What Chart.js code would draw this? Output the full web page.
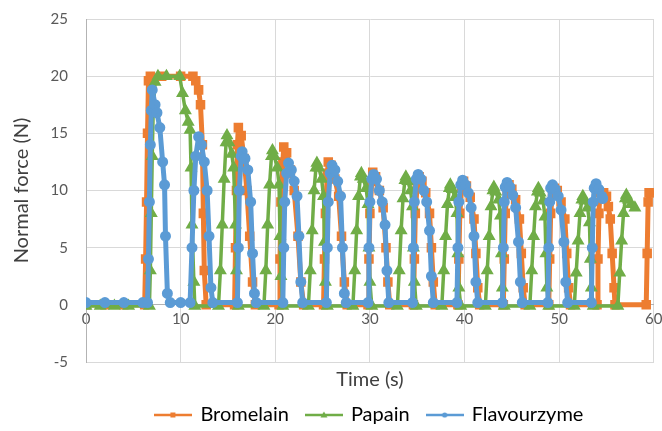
<!DOCTYPE html>
<html>
<head>
<meta charset="utf-8">
<script src="https://cdn.jsdelivr.net/npm/chart.js@4"></script>
<style>
  html, body { margin: 0; padding: 0; background: #fff; }
</style>
</head>
<body>
<canvas id="forceChart" width="662" height="431"></canvas>
<script>
// Normal force vs time for three enzyme treatments

const xTicks = [0, 10, 20, 30, 40, 50, 60];
const yTicks = [-5, 0, 5, 10, 15, 20, 25];

const bromelainT = [
  0, 2, 4, 6.2, 6.3, 6.4, 6.5, 6.6, 6.8, 8, 10, 11.3, 11.6, 11.9, 12.1, 12.3, 12.4, 12.5, 12.7,
  15.7, 15.8, 15.9, 16.0, 16.1, 16.4, 16.7, 17.0, 17.3, 17.6, 17.9,
  20.4, 20.5, 20.6, 20.8, 20.9, 21.2, 21.6, 22.0, 22.4, 22.7, 23.0,
  25.1, 25.2, 25.3, 25.5, 25.6, 25.9, 26.3, 26.7, 27.0, 27.3, 27.6,
  29.8, 29.9, 30.0, 30.2, 30.3, 30.6, 31.0, 31.4, 31.7, 31.9, 32.1,
  34.6, 34.7, 34.8, 35.0, 35.2, 35.5, 35.9, 36.3, 36.5, 36.7, 36.9,
  39.3, 39.4, 39.5, 39.7, 39.9, 40.2, 40.6, 41.0, 41.2, 41.4, 41.6,
  44.1, 44.2, 44.3, 44.5, 44.7, 45.0, 45.4, 45.8, 46.0, 46.2, 46.4,
  48.9, 49.0, 49.1, 49.3, 49.5, 49.8, 50.2, 50.6, 50.8, 51.0, 51.2,
  54.0, 54.1, 54.2, 54.3, 54.7, 55.0, 55.2, 55.4, 55.6, 55.8, 55.9,
  59.2, 59.3, 59.4, 59.5, 60.0, 60.1
];
const bromelainF = [
  0, 0, 0, 0, 4, 9, 15, 19.6, 20, 20, 20, 20, 19.6, 18.8, 17.5, 14, 8, 3, 0,
  0, 5, 10, 14, 15.5, 14.8, 12.8, 10, 6, 2, 0,
  0, 4, 9, 12.5, 13.8, 13.3, 11.8, 10, 6, 2, 0,
  0, 4, 8, 11.5, 12.5, 12.2, 11, 9.5, 6, 2, 0,
  0, 4, 8, 10.8, 11.6, 11.2, 10, 8.5, 5, 2, 0,
  0, 4, 8, 10.6, 11.2, 10.8, 9.8, 8, 5, 2, 0,
  0, 4, 8, 10.2, 10.8, 10.4, 9.4, 7.5, 4.5, 1.5, 0,
  0, 4, 8, 10, 10.5, 10.1, 9.2, 7.5, 4.5, 1.5, 0,
  0, 4, 8, 9.8, 10.2, 10, 9, 7.5, 4.5, 1.5, 0,
  0, 4, 8, 9.8, 9.8, 9.5, 8.6, 7.5, 4.5, 1.5, 0,
  0, 4.5, 9, 9.8, 9.8, 8.6
];

const papainT = [
  0, 1.5, 3, 4.5, 6.7, 6.8, 6.9, 7.0, 7.1, 7.3, 7.6, 8.5, 9.9, 10.2, 10.5, 10.8, 11.0, 11.1, 11.2, 11.4, 11.5,
  14.0, 14.2, 14.4, 14.6, 14.8, 14.9, 15.1, 15.4, 15.6, 15.8, 15.9, 16.1,
  18.8, 19.0, 19.2, 19.4, 19.6, 19.7, 19.9, 20.2, 20.4, 20.5, 20.6, 20.8,
  23.5, 23.7, 23.9, 24.1, 24.3, 24.4, 24.6, 24.9, 25.1, 25.2, 25.3, 25.5,
  28.2, 28.4, 28.6, 28.8, 29.0, 29.1, 29.3, 29.6, 29.8, 29.9, 30.0, 30.2,
  32.9, 33.1, 33.3, 33.5, 33.7, 33.8, 34.0, 34.3, 34.5, 34.6, 34.7, 34.9,
  37.6, 37.8, 38.0, 38.2, 38.4, 38.5, 38.7, 39.0, 39.2, 39.3, 39.4, 39.6,
  42.2, 42.4, 42.6, 42.8, 43.0, 43.1, 43.3, 43.6, 43.8, 43.9, 44.0, 44.2,
  46.9, 47.1, 47.3, 47.5, 47.7, 47.8, 48.0, 48.3, 48.5, 48.6, 48.7, 48.9,
  51.6, 51.8, 52.0, 52.2, 52.4, 52.5, 52.7, 53.0, 53.2, 53.3, 53.4, 53.6,
  56.2, 56.4, 56.6, 56.8, 57.0, 57.1, 57.3, 57.6, 58.0
];
const papainF = [
  -0.1, -0.1, -0.1, -0.1, -0.1, 3, 8, 13, 17, 19.5, 20, 20, 20, 18.5, 17, 16, 15.3, 12, 7, 2, -0.1,
  -0.1, 3, 7, 11, 14.2, 14.8, 14.2, 13.2, 12, 7, 3, -0.1,
  -0.1, 3, 7, 10.5, 13, 13.5, 13, 12, 10.5, 6, 2.5, -0.1,
  -0.1, 3, 6.5, 10, 12, 12.4, 12, 11, 9.5, 5.5, 2, -0.1,
  -0.1, 3, 6.5, 9.5, 11.2, 11.5, 11, 10.2, 8.8, 5, 2, -0.1,
  -0.1, 3, 6.5, 9.3, 10.9, 11.2, 10.8, 10, 8.6, 5, 2, -0.1,
  -0.1, 3, 6, 8.8, 10.2, 10.5, 10.1, 9.4, 8, 4.5, 1.5, -0.1,
  -0.1, 3, 6, 8.6, 10, 10.3, 9.9, 9.2, 7.8, 4.5, 1.5, -0.1,
  -0.1, 3, 6, 8.6, 9.9, 10.2, 9.8, 9.1, 7.7, 4.5, 1.5, -0.1,
  -0.1, 2.8, 5.6, 8, 9.2, 9.5, 9.1, 8.5, 7.2, 4, 1.5, -0.1,
  -0.1, 2.8, 5.6, 8, 9.3, 9.6, 9.2, 8.8, 8.5
];

const flavourzymeT = [
  0, 2, 4, 6, 6.5, 6.6, 6.7, 6.8, 6.9, 7.0, 7.3, 7.5, 7.8, 8.1, 8.3, 8.4, 8.6, 8.9,
  10, 11.0, 11.2, 11.4, 11.6, 11.9, 12.2, 12.5, 12.8, 13.0, 13.2, 13.4,
  16.0, 16.1, 16.2, 16.4, 16.5, 16.8, 17.1, 17.4, 17.6, 17.8, 18.0,
  20.8, 20.9, 21.0, 21.2, 21.4, 21.7, 22.0, 22.3, 22.5, 22.7, 22.9,
  25.4, 25.5, 25.6, 25.8, 26.0, 26.3, 26.6, 26.9, 27.1, 27.3, 27.5,
  29.8, 29.9, 30.0, 30.2, 30.4, 30.7, 31.0, 31.3, 31.6, 31.8, 32.0,
  34.5, 34.6, 34.7, 34.9, 35.1, 35.4, 35.7, 36.0, 36.3, 36.5, 36.7,
  39.2, 39.3, 39.4, 39.6, 39.8, 40.1, 40.4, 40.7, 41.0, 41.2, 41.4,
  44.0, 44.1, 44.2, 44.3, 44.5, 44.8, 45.1, 45.4, 45.7, 45.9, 46.1,
  48.8, 48.9, 49.0, 49.1, 49.3, 49.6, 49.9, 50.2, 50.5, 50.7, 50.9,
  53.4, 53.5, 53.6, 53.7, 53.9, 54.2, 54.5, 54.6
];
const flavourzymeF = [
  0.2, 0.2, 0.2, 0.2, 0.2, 4, 9, 14, 17, 18.8, 17.5, 16.8, 15.5, 12.5, 10.5, 6, 1, 0.2,
  0.2, 0.2, 5, 10, 13, 14.7, 14, 12.5, 10, 6, 1.5, 0.2,
  0.2, 5, 10, 13, 13.4, 12.8, 11.8, 9, 4.5, 1, 0.2,
  0.2, 5, 9, 11.5, 12.4, 11.8, 10.8, 9.5, 6, 2, 0.2,
  0.2, 5, 9, 11.5, 12.2, 11.8, 10.8, 9.5, 5, 1, 0.2,
  0.2, 5, 9, 11, 11.4, 11, 10, 9, 7, 3, 0.2,
  0.2, 5, 9, 11, 11.4, 11, 10, 9, 6.5, 2.5, 0.2,
  0.2, 5, 9, 10.5, 10.9, 10.5, 9.8, 8.5, 6, 2, 0.2,
  0.2, 5, 9, 10.3, 10.7, 10.3, 9.6, 8.5, 5.5, 2, 0.2,
  0.2, 5, 9, 10.2, 10.5, 10.1, 9.5, 8.3, 5.5, 2, 0.2,
  0.2, 5, 9, 10.2, 10.6, 10.1, 9.5, 9.3
];

const seriesNames = ['Bromelain', 'Papain', 'Flavourzyme'];
const seriesColors = ['#ED7D31', '#70AD47', '#5B9BD5'];

const FONT = 'Lato';
const textColor = '#404040';
const tickColor = '#595959';
const gridColor = '#d9d9d9';
const axisColor = '#b3b3b3';

function toPoints(ts, fs) {
  return ts.map((t, i) => ({ x: t, y: fs[i] }));
}

// small line-with-marker icon for the legend, like the office style legend
function legendIcon(color, marker) {
  const c = document.createElement('canvas');
  c.width = 38;
  c.height = 12;
  const g = c.getContext('2d');
  g.strokeStyle = color;
  g.fillStyle = color;
  g.lineWidth = 2.5;
  g.beginPath();
  g.moveTo(0, 6);
  g.lineTo(38, 6);
  g.stroke();
  g.beginPath();
  if (marker === 'rect') {
    g.rect(16, 3.5, 5, 5);
  } else if (marker === 'triangle') {
    g.moveTo(19, 2.5);
    g.lineTo(22.5, 8.5);
    g.lineTo(15.5, 8.5);
    g.closePath();
  } else {
    g.arc(19, 6, 2.6, 0, Math.PI * 2);
  }
  g.fill();
  return c;
}

const markers = ['rect', 'triangle', 'circle'];
const icons = seriesColors.map((c, i) => legendIcon(c, markers[i]));

const ctx = document.getElementById('forceChart').getContext('2d');

new Chart(ctx, {
  type: 'line',
  data: {
    datasets: [
      {
        label: seriesNames[0],
        data: toPoints(bromelainT, bromelainF),
        borderColor: seriesColors[0],
        backgroundColor: seriesColors[0],
        borderWidth: 5,
        pointStyle: 'rect',
        pointRadius: 3.2,
        order: 3
      },
      {
        label: seriesNames[1],
        data: toPoints(papainT, papainF),
        borderColor: seriesColors[1],
        backgroundColor: seriesColors[1],
        borderWidth: 3.5,
        pointStyle: 'triangle',
        pointRadius: 4,
        order: 2
      },
      {
        label: seriesNames[2],
        data: toPoints(flavourzymeT, flavourzymeF),
        borderColor: seriesColors[2],
        backgroundColor: seriesColors[2],
        borderWidth: 5,
        pointStyle: 'circle',
        pointRadius: 3,
        order: 1
      }
    ]
  },
  options: {
    responsive: false,
    devicePixelRatio: 1,
    animation: false,
    layout: {
      padding: { top: 19, right: 6, left: 0, bottom: 0 }
    },
    elements: {
      line: { tension: 0, borderJoinStyle: 'round', borderCapStyle: 'round' },
      point: { borderWidth: 0, hoverRadius: 3 }
    },
    plugins: {
      tooltip: { enabled: false },
      legend: {
        position: 'bottom',
        fullSize: false,
        maxHeight: 44,
        labels: {
          usePointStyle: true,
          pointStyleWidth: 34,
          padding: 18,
          color: textColor,
          font: { family: FONT, size: 20 },
          generateLabels: () => seriesNames.map((name, i) => ({
            text: name,
            fillStyle: seriesColors[i],
            strokeStyle: seriesColors[i],
            lineWidth: 0,
            pointStyle: icons[i],
            datasetIndex: i,
            hidden: false
          }))
        }
      }
    },
    scales: {
      x: {
        type: 'linear',
        position: 'bottom',
        min: 0,
        max: 60,
        afterBuildTicks: (scale) => {
          scale.ticks = xTicks.map(v => ({ value: v }));
        },
        afterFit: (scale) => {
          scale.height = 25;
        },
        ticks: { display: false },
        grid: {
          drawTicks: false,
          color: (c) => (c.tick && c.tick.value === 0 ? axisColor : gridColor)
        },
        border: { color: gridColor },
        title: {
          display: true,
          text: 'Time (s)',
          color: textColor,
          font: { family: FONT, size: 20, lineHeight: 0.6 },
          padding: { top: 0, bottom: 1 }
        }
      },
      x2: {
        type: 'linear',
        axis: 'x',
        position: { y: 0 },
        min: 0,
        max: 60,
        afterBuildTicks: (scale) => {
          scale.ticks = xTicks.map(v => ({ value: v }));
        },
        afterFit: (scale) => {
          scale.paddingLeft = 0;
          scale.paddingRight = 0;
        },
        ticks: {
          color: tickColor,
          font: { family: FONT, size: 15 },
          padding: 5,
          maxRotation: 0
        },
        grid: { display: false, drawTicks: false },
        border: { color: axisColor, width: 1 }
      },
      y: {
        type: 'linear',
        position: 'left',
        min: -5,
        max: 25,
        afterBuildTicks: (scale) => {
          scale.ticks = yTicks.map(v => ({ value: v }));
        },
        afterFit: (scale) => {
          scale.width = 86;
          // tick padding would otherwise push the plot top down
          scale.paddingTop = 0;
          scale.paddingBottom = 0;
        },
        ticks: {
          color: tickColor,
          font: { family: FONT, size: 15 },
          padding: 18
        },
        grid: {
          drawTicks: false,
          color: (c) => (c.tick && c.tick.value === 0 ? axisColor : gridColor)
        },
        border: { color: axisColor },
        title: {
          display: true,
          text: 'Normal force (N)',
          color: textColor,
          font: { family: FONT, size: 20 },
          padding: { top: 10, bottom: 0 }
        }
      }
    }
  }
});
</script>
</body>
</html>
